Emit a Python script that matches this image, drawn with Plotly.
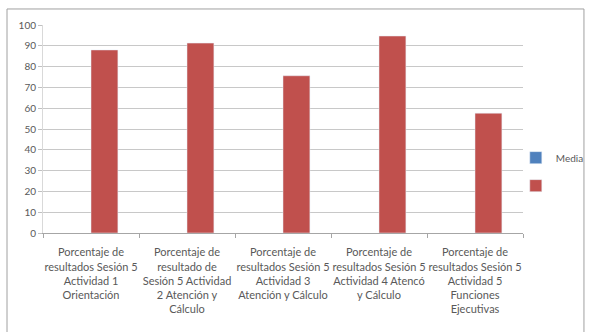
import plotly.graph_objects as go

# Categories (x-axis labels, wrapped as in the chart)
categories = [
    "Porcentaje de<br>resultados Sesión 5<br>Actividad 1<br>Orientación",
    "Porcentaje de<br>resultado de<br>Sesión 5 Actividad<br>2 Atención y<br>Cálculo",
    "Porcentaje de<br>resultados Sesión 5<br>Actividad 3<br>Atención y Cálculo",
    "Porcentaje de<br>resultados Sesión 5<br>Actividad 4 Atencó<br>y Cálculo",
    "Porcentaje de<br>resultados Sesión 5<br>Actividad 5<br>Funciones<br>Ejecutivas",
]

# Series values
media_values = [None, None, None, None, None]
result_values = [88, 91.3, 75.6, 94.7, 57.6]

y_ticks = list(range(0, 101, 10))

BLUE = "#4F81BD"
RED = "#C0504D"
TEXT = "#595959"
GRID = "#C8C8C8"

fig = go.Figure()
fig.add_trace(go.Bar(x=categories, y=media_values, name="Media",
                     legendgroup="a", marker=dict(color=BLUE)))
fig.add_trace(go.Bar(x=categories, y=result_values, name=" ",
                     legendgroup="b", marker=dict(color=RED)))

fig.update_layout(
    width=592, height=332,
    margin=dict(l=43, r=69, t=25, b=99, autoexpand=False),
    paper_bgcolor="white", plot_bgcolor="white",
    barmode="group", bargap=0.44, bargroupgap=0,
    font=dict(family="Lato, Open Sans, sans-serif", size=10, color=TEXT),
    legend=dict(x=0.985, y=0.295, xanchor="left", yanchor="middle",
                font=dict(size=10, color=TEXT), itemwidth=30,
                traceorder="grouped", tracegroupgap=9,
                bgcolor="rgba(0,0,0,0)"),
    xaxis=dict(showgrid=False, showline=True, linecolor="#A6A6A6",
               ticks="outside", ticklen=4, tickcolor="#A6A6A6",
               tickson="boundaries", tickangle=0, ticklabelstandoff=9,
               tickfont=dict(size=11, color=TEXT)),
    yaxis=dict(range=[0, 100], tickvals=y_ticks, showgrid=True,
               gridcolor=GRID, showline=True, linecolor="#D9D9D9",
               ticks="outside", ticklen=4, tickcolor="#C0C0C0",
               zeroline=False, tickfont=dict(size=10, color=TEXT)),
    shapes=[dict(type="rect", xref="paper", yref="paper",
                 x0=-0.075, x1=1.127, y0=-1.0, y1=1.077,
                 line=dict(color="#A0A0A0", width=1), layer="below")],
)

fig.write_html("out.html")
